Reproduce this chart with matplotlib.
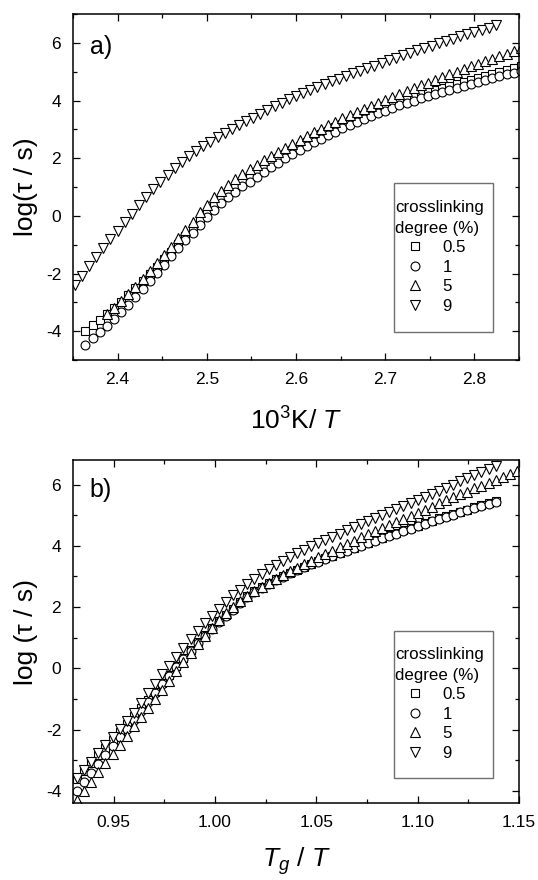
import numpy as np
import matplotlib
matplotlib.use("Agg")
import matplotlib.pyplot as plt
from matplotlib.ticker import MultipleLocator, FormatStrFormatter
from matplotlib.patches import Rectangle

plt.rcParams['font.family'] = ['Liberation Sans', 'DejaVu Sans']
plt.rcParams['mathtext.fontset'] = 'custom'
plt.rcParams['mathtext.rm'] = 'Liberation Sans'
plt.rcParams['mathtext.it'] = 'Liberation Sans:italic'
plt.rcParams['axes.unicode_minus'] = False

# ---- panel a: log(tau) vs 1000/T ----
x_a_05_1 = [2.364, 2.372, 2.380, 2.388, 2.396, 2.404, 2.412, 2.420, 2.428, 2.436,
            2.444, 2.452, 2.460, 2.468, 2.476, 2.484, 2.492, 2.500, 2.508, 2.516,
            2.524, 2.532, 2.540, 2.548, 2.556, 2.564, 2.572, 2.580, 2.588, 2.596,
            2.604, 2.612, 2.620, 2.628, 2.636, 2.644, 2.652, 2.660, 2.668, 2.676,
            2.684, 2.692, 2.700, 2.708, 2.716, 2.724, 2.732, 2.740, 2.748, 2.756,
            2.764, 2.772, 2.780, 2.788, 2.796, 2.804, 2.812, 2.820, 2.828, 2.836,
            2.844, 2.852]
y_a_05 = [-4.00, -3.80, -3.60, -3.40, -3.20, -2.98, -2.76, -2.52, -2.27, -2.02,
          -1.76, -1.50, -1.24, -0.97, -0.70, -0.43, -0.16, 0.10, 0.35, 0.58,
          0.79, 0.99, 1.17, 1.34, 1.51, 1.67, 1.83, 1.99, 2.14, 2.29,
          2.43, 2.57, 2.70, 2.83, 2.95, 3.07, 3.19, 3.30, 3.41, 3.51,
          3.61, 3.71, 3.80, 3.89, 3.98, 4.06, 4.14, 4.22, 4.29, 4.36,
          4.43, 4.50, 4.57, 4.64, 4.71, 4.78, 4.85, 4.92, 4.99, 5.06,
          5.12, 5.19]
y_a_1 = [-4.47, -4.25, -4.03, -3.81, -3.59, -3.34, -3.08, -2.81, -2.53, -2.25,
         -1.97, -1.69, -1.41, -1.13, -0.85, -0.58, -0.31, -0.05, 0.20, 0.43,
         0.64, 0.84, 1.02, 1.19, 1.36, 1.52, 1.68, 1.84, 1.99, 2.14,
         2.28, 2.42, 2.55, 2.68, 2.80, 2.92, 3.04, 3.15, 3.26, 3.36,
         3.46, 3.56, 3.65, 3.74, 3.83, 3.91, 3.99, 4.07, 4.14, 4.21,
         4.28, 4.35, 4.42, 4.49, 4.56, 4.63, 4.70, 4.77, 4.84, 4.91,
         4.97, 5.04]
x_a_5 = [2.388, 2.396, 2.404, 2.412, 2.420, 2.428, 2.436, 2.444, 2.452, 2.460,
         2.468, 2.476, 2.484, 2.492, 2.500, 2.508, 2.516, 2.524, 2.532, 2.540,
         2.548, 2.556, 2.564, 2.572, 2.580, 2.588, 2.596, 2.604, 2.612, 2.620,
         2.628, 2.636, 2.644, 2.652, 2.660, 2.668, 2.676, 2.684, 2.692, 2.700,
         2.708, 2.716, 2.724, 2.732, 2.740, 2.748, 2.756, 2.764, 2.772, 2.780,
         2.788, 2.796, 2.804, 2.812, 2.820, 2.828, 2.836, 2.844, 2.852]
y_a_5 = [-3.40, -3.18, -2.95, -2.71, -2.46, -2.20, -1.93, -1.65, -1.36, -1.07,
         -0.78, -0.49, -0.21, 0.12, 0.39, 0.64, 0.87, 1.08, 1.27, 1.45,
         1.62, 1.78, 1.93, 2.08, 2.22, 2.36, 2.50, 2.64, 2.77, 2.90,
         3.02, 3.14, 3.26, 3.38, 3.49, 3.60, 3.71, 3.82, 3.93, 4.03,
         4.13, 4.23, 4.33, 4.43, 4.53, 4.62, 4.72, 4.81, 4.91, 5.00,
         5.09, 5.18, 5.27, 5.36, 5.45, 5.54, 5.63, 5.72, 5.81]
x_a_9 = [2.352, 2.360, 2.368, 2.376, 2.384, 2.392, 2.400, 2.408, 2.416, 2.424,
         2.432, 2.440, 2.448, 2.456, 2.464, 2.472, 2.480, 2.488, 2.496, 2.504,
         2.512, 2.520, 2.528, 2.536, 2.544, 2.552, 2.560, 2.568, 2.576, 2.584,
         2.592, 2.600, 2.608, 2.616, 2.624, 2.632, 2.640, 2.648, 2.656, 2.664,
         2.672, 2.680, 2.688, 2.696, 2.704, 2.712, 2.720, 2.728, 2.736, 2.744,
         2.752, 2.760, 2.768, 2.776, 2.784, 2.792, 2.800, 2.808, 2.816, 2.824]
y_a_9 = [-2.40, -2.07, -1.74, -1.42, -1.11, -0.81, -0.51, -0.21, 0.08, 0.37,
         0.65, 0.92, 1.18, 1.43, 1.67, 1.87, 2.06, 2.24, 2.41, 2.57,
         2.72, 2.87, 3.01, 3.15, 3.28, 3.41, 3.54, 3.67, 3.80, 3.92,
         4.04, 4.16, 4.27, 4.37, 4.47, 4.57, 4.67, 4.76, 4.85, 4.94,
         5.03, 5.12, 5.21, 5.30, 5.39, 5.48, 5.57, 5.65, 5.74, 5.82,
         5.90, 5.98, 6.06, 6.14, 6.22, 6.30, 6.38, 6.46, 6.53, 6.61]

# ---- panel b: log(tau) vs Tg/T ----
x_b_05_1 = [0.9320, 0.9355, 0.9390, 0.9425, 0.9460, 0.9495, 0.9530, 0.9565, 0.9600, 0.9635,
            0.9670, 0.9705, 0.9740, 0.9775, 0.9810, 0.9845, 0.9880, 0.9915, 0.9950, 0.9985,
            1.0020, 1.0055, 1.0090, 1.0125, 1.0160, 1.0195, 1.0230, 1.0265, 1.0300, 1.0335,
            1.0370, 1.0405, 1.0440, 1.0475, 1.0510, 1.0545, 1.0580, 1.0615, 1.0650, 1.0685,
            1.0720, 1.0755, 1.0790, 1.0825, 1.0860, 1.0895, 1.0930, 1.0965, 1.1000, 1.1035,
            1.1070, 1.1105, 1.1140, 1.1175, 1.1210, 1.1245, 1.1280, 1.1315, 1.1350, 1.1385]
y_b_05 = [-3.62, -3.36, -3.10, -2.84, -2.59, -2.33, -2.08, -1.83, -1.57, -1.31,
          -1.04, -0.77, -0.49, -0.21, 0.07, 0.34, 0.60, 0.85, 1.09, 1.32,
          1.54, 1.75, 1.95, 2.15, 2.35, 2.51, 2.65, 2.78, 2.90, 3.01,
          3.12, 3.22, 3.32, 3.41, 3.50, 3.59, 3.68, 3.77, 3.85, 3.94,
          4.02, 4.10, 4.18, 4.26, 4.34, 4.42, 4.50, 4.58, 4.66, 4.74,
          4.82, 4.89, 4.97, 5.04, 5.11, 5.18, 5.25, 5.32, 5.39, 5.46]
y_b_1 = [-4.00, -3.71, -3.42, -3.13, -2.84, -2.55, -2.26, -1.97, -1.68, -1.39,
         -1.10, -0.81, -0.52, -0.24, 0.04, 0.31, 0.57, 0.82, 1.06, 1.29,
         1.51, 1.72, 1.91, 2.13, 2.33, 2.49, 2.63, 2.76, 2.88, 2.99,
         3.10, 3.20, 3.30, 3.39, 3.48, 3.57, 3.66, 3.75, 3.83, 3.92,
         4.00, 4.08, 4.16, 4.24, 4.32, 4.40, 4.48, 4.56, 4.64, 4.72,
         4.80, 4.87, 4.95, 5.02, 5.09, 5.16, 5.23, 5.30, 5.37, 5.44]
x_b_5 = [0.9320, 0.9355, 0.9390, 0.9425, 0.9460, 0.9495, 0.9530, 0.9565, 0.9600, 0.9635,
         0.9670, 0.9705, 0.9740, 0.9775, 0.9810, 0.9845, 0.9880, 0.9915, 0.9950, 0.9985,
         1.0020, 1.0055, 1.0090, 1.0125, 1.0160, 1.0195, 1.0230, 1.0265, 1.0300, 1.0335,
         1.0370, 1.0405, 1.0440, 1.0475, 1.0510, 1.0545, 1.0580, 1.0615, 1.0650, 1.0685,
         1.0720, 1.0755, 1.0790, 1.0825, 1.0860, 1.0895, 1.0930, 1.0965, 1.1000, 1.1035,
         1.1070, 1.1105, 1.1140, 1.1175, 1.1210, 1.1245, 1.1280, 1.1315, 1.1350, 1.1385,
         1.1420, 1.1455, 1.1490]
y_b_5 = [-4.30, -4.00, -3.70, -3.40, -3.10, -2.80, -2.50, -2.20, -1.90, -1.60,
         -1.30, -1.00, -0.70, -0.40, -0.10, 0.20, 0.49, 0.78, 1.06, 1.32,
         1.57, 1.80, 2.01, 2.20, 2.37, 2.52, 2.66, 2.79, 2.92, 3.04,
         3.16, 3.28, 3.40, 3.51, 3.62, 3.73, 3.84, 3.95, 4.06, 4.17,
         4.28, 4.38, 4.48, 4.58, 4.68, 4.78, 4.88, 4.98, 5.08, 5.18,
         5.28, 5.38, 5.48, 5.58, 5.68, 5.77, 5.87, 5.96, 6.06, 6.15,
         6.25, 6.34, 6.44]
x_b_9 = x_b_05_1
y_b_9 = [-3.58, -3.31, -3.05, -2.78, -2.51, -2.25, -1.98, -1.71, -1.45, -1.12,
         -0.82, -0.50, -0.20, 0.08, 0.37, 0.66, 0.94, 1.21, 1.47, 1.72,
         1.95, 2.17, 2.38, 2.57, 2.75, 2.92, 3.08, 3.23, 3.37, 3.50,
         3.63, 3.75, 3.87, 3.98, 4.09, 4.20, 4.30, 4.40, 4.50, 4.60,
         4.70, 4.80, 4.90, 5.00, 5.10, 5.20, 5.30, 5.40, 5.50, 5.60,
         5.70, 5.80, 5.90, 6.00, 6.10, 6.20, 6.30, 6.40, 6.50, 6.60]

labels = ["0.5", "1", "5", "9"]
markers = ["s", "o", "^", "v"]
msizes = [5.2, 6.4, 6.8, 6.8]

fig = plt.figure(figsize=(5.38, 8.8), dpi=100)
ax_a = fig.add_axes([73/538, 1-360/880, 446/538, 346/880])
ax_b = fig.add_axes([73/538, 1-803/880, 446/538, 343/880])

series_a = [(x_a_05_1, y_a_05), (x_a_05_1, y_a_1), (x_a_5, y_a_5), (x_a_9, y_a_9)]
series_b = [(x_b_05_1, y_b_05), (x_b_05_1, y_b_1), (x_b_5, y_b_5), (x_b_9, y_b_9)]

for ax, series in [(ax_a, series_a), (ax_b, series_b)]:
    for (xs, ys), m, ms, lab in zip(series, markers, msizes, labels):
        ax.plot(xs, ys, linestyle="none", marker=m, ms=ms, mfc="white",
                mec="black", mew=0.8, label=lab)
    ax.tick_params(which="both", direction="in", top=True, right=True,
                   labelsize=12.5, width=0.9, pad=8.5)
    ax.tick_params(which="major", length=5)
    ax.tick_params(which="minor", length=3)
    for sp in ax.spines.values():
        sp.set_linewidth(1.1)
    ax.yaxis.set_major_locator(MultipleLocator(2))
    ax.yaxis.set_minor_locator(MultipleLocator(1))
    ax.yaxis.set_major_formatter(FormatStrFormatter("%d"))

ax_a.set_xlim(2.35, 2.85)
ax_a.set_ylim(-5, 7)
ax_a.xaxis.set_major_locator(MultipleLocator(0.1))
ax_a.xaxis.set_minor_locator(MultipleLocator(0.05))
ax_a.xaxis.set_major_formatter(FormatStrFormatter("%.1f"))
ax_a.set_xlabel(r"10$^3$K/ $T$", fontsize=19, labelpad=15)
ax_a.set_ylabel("log(τ / s)", fontsize=19)
ax_a.text(0.038, 0.905, "a)", transform=ax_a.transAxes, fontsize=18,
          ha="left", va="center")

ax_b.set_xlim(0.93, 1.15)
ax_b.set_ylim(-4.4, 6.8)
ax_b.xaxis.set_major_locator(MultipleLocator(0.05))
ax_b.xaxis.set_minor_locator(MultipleLocator(0.025))
ax_b.xaxis.set_major_formatter(FormatStrFormatter("%.2f"))
ax_b.set_xlabel(r"$T_g$ / $T$", fontsize=19, labelpad=11)
ax_b.set_ylabel("log (τ / s)", fontsize=19)
ax_b.text(0.038, 0.9125, "b)", transform=ax_b.transAxes, fontsize=18,
          ha="left", va="center")

for ax in (ax_a, ax_b):
    ax.yaxis.set_label_coords(-0.078, 0.5)

# legend boxes
for ax, box, anchor in [(ax_a, (0.7197, 0.0809, 0.222, 0.4307), (0.722, 0.462)),
                        (ax_b, (0.7197, 0.0729, 0.222, 0.4286), (0.722, 0.454))]:
    ax.add_patch(Rectangle(box[:2], box[2], box[3], transform=ax.transAxes,
                           fill=False, edgecolor="#707070", lw=1.0, zorder=5))
    leg = ax.legend(title="crosslinking\ndegree (%)", loc="upper left",
                    bbox_to_anchor=anchor, frameon=False, fontsize=12.2,
                    title_fontsize=12.2, borderpad=0, borderaxespad=0,
                    handlelength=2.4, handletextpad=0.4, labelspacing=0.27,
                    numpoints=1, alignment="left")
    leg.get_title().set_linespacing(1.45)

fig.savefig("out.png", dpi=100)
